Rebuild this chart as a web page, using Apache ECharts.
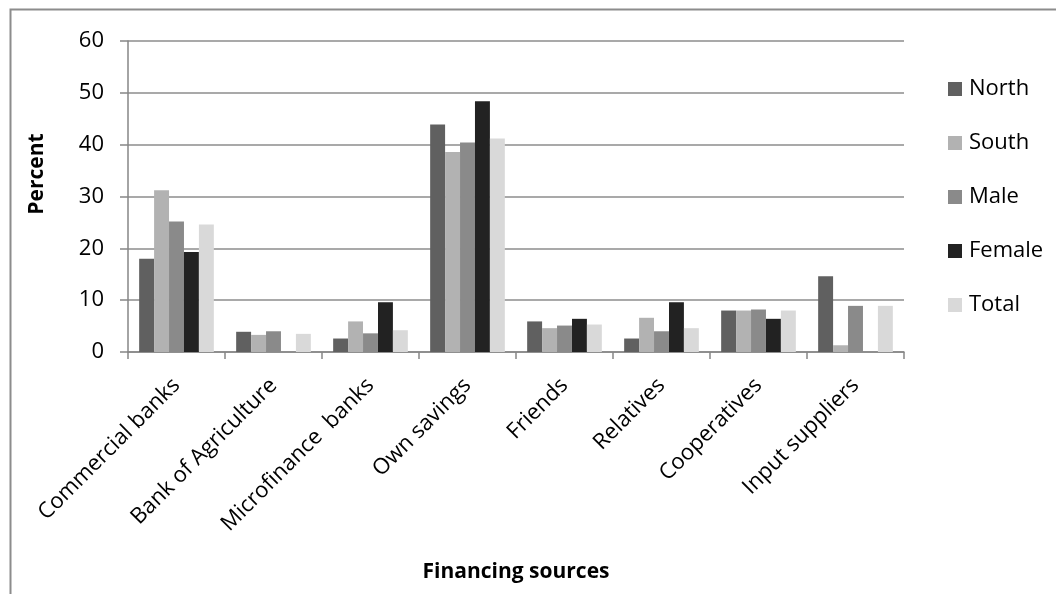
<!DOCTYPE html>
<html>
<head>
<meta charset="utf-8">
<script src="https://cdn.jsdelivr.net/npm/echarts@6/dist/echarts.min.js"></script>
<style>
html,body{margin:0;padding:0;background:#fff;}
#chart{width:1056px;height:594px;}
</style>
</head>
<body>
<div id="chart"></div>
<script>
const categories = ['Commercial banks', 'Bank of Agriculture', 'Microfinance  banks', 'Own savings', 'Friends', 'Relatives', 'Cooperatives', 'Input suppliers'];
const north  = [18.0, 3.9, 2.6, 43.9, 5.9, 2.6, 8.0, 14.6];
const south  = [31.2, 3.3, 5.9, 38.6, 4.6, 6.6, 8.0, 1.3];
const male   = [25.2, 4.0, 3.6, 40.4, 5.1, 4.0, 8.2, 8.9];
const female = [19.3, 0, 9.6, 48.4, 6.4, 9.6, 6.4, 0];
const total  = [24.6, 3.5, 4.2, 41.2, 5.3, 4.6, 8.0, 8.9];
const seriesNames = ['North', 'South', 'Male', 'Female', 'Total'];
const yTicks = [0, 10, 20, 30, 40, 50, 60];

const colors = ['#606060', '#b2b2b2', '#8a8a8a', '#222222', '#d9d9d9'];
const font = '"Open Sans", "Noto Sans", sans-serif';
const seriesData = [north, south, male, female, total];

const chart = echarts.init(document.getElementById('chart'));
chart.setOption({
  animation: false,
  backgroundColor: '#fff',
  color: colors,
  textStyle: { fontFamily: font },
  grid: { left: 128, right: 152, top: 41, bottom: 242, containLabel: false },
  legend: {
    orient: 'vertical',
    left: 943,
    top: 73,
    itemWidth: 14,
    itemHeight: 14,
    itemGap: 32,
    icon: 'rect',
    data: seriesNames,
    textStyle: { fontFamily: font, fontSize: 22, color: '#000', lineHeight: 22, padding: [0, 0, 0, 2] }
  },
  xAxis: {
    type: 'category',
    data: categories,
    axisLine: { lineStyle: { color: '#868686', width: 1.5 } },
    axisTick: { show: true, length: 7, lineStyle: { color: '#868686', width: 1.5 } },
    axisLabel: { rotate: 45, interval: 0, margin: 30, color: '#000', fontSize: 22, fontFamily: font }
  },
  yAxis: {
    type: 'value',
    min: 0, max: 60, interval: 10,
    axisLine: { show: true, lineStyle: { color: '#868686', width: 1.5 } },
    axisTick: { show: true, length: 8, lineStyle: { color: '#868686', width: 1.5 } },
    splitLine: { lineStyle: { color: '#8c8c8c', width: 1.5 } },
    axisLabel: {
      margin: 24, color: '#000', fontSize: 22, fontFamily: font,
      formatter: v => yTicks.includes(v) ? String(v) : ''
    }
  },
  series: seriesNames.map((n, i) => ({
    name: n,
    type: 'bar',
    data: seriesData[i],
    barGap: '0%',
    barCategoryGap: '23%',
    itemStyle: { color: colors[i] }
  })),
  graphic: [
    { type: 'rect', left: 8, top: 7, shape: { width: 1200, height: 700 }, style: { fill: 'none', stroke: '#8c8c8c', lineWidth: 2 }, silent: true },
    { type: 'text', x: 37, y: 174, rotation: Math.PI / 2, style: { text: 'Percent', font: 'bold 21px ' + font, fill: '#000', textAlign: 'center', textVerticalAlign: 'middle' } },
    { type: 'text', x: 516, y: 572, style: { text: 'Financing sources', font: 'bold 21px ' + font, fill: '#000', textAlign: 'center', textVerticalAlign: 'middle' } }
  ]
});
</script>
</body>
</html>
